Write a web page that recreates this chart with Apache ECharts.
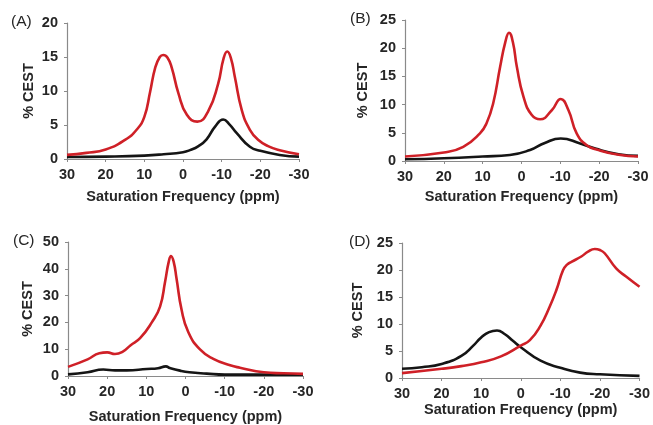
<!DOCTYPE html>
<html><head><meta charset="utf-8">
<script src="https://cdn.jsdelivr.net/npm/echarts@6/dist/echarts.min.js"></script>
<style>html,body{margin:0;padding:0;background:#fff}#c{width:653px;height:425px}</style>
</head><body><div id="c"></div>
<script>
// Panel A
const xA = [30, 25, 20, 15, 12, 10, 8.5, 7.2, 6, 5.1, 4, 2.9, 1.2, -1, -3.7, -6.5, -9.1, -10.5, -11.45, -12.4, -13.4, -15.2, -17.3, -19.5, -22, -25, -30];
const redA = [0.6, 0.9, 1.4, 2.8, 4.3, 6.2, 9.9, 13.4, 15.0, 15.3, 14.9, 13.4, 9.7, 6.5, 5.5, 7.0, 11.1, 14.8, 15.8, 14.8, 12.1, 7.2, 4.3, 2.8, 1.9, 1.3, 0.7];
const xAb = [30, 20, 10, 5, 0, -1.8, -4, -6.1, -8.3, -10.4, -12, -13.9, -17.3, -20, -25, -30];
const blackA = [0.3, 0.35, 0.5, 0.7, 1.0, 1.3, 1.9, 2.9, 4.75, 5.8, 5.1, 3.8, 1.8, 1.2, 0.6, 0.35];
// Panel B
const xB = [30, 20, 15, 10.7, 9, 7.3, 5.5, 4.2, 3.2, 2.2, 1.2, -0.5, -2.6, -4.8, -7.8, -10.1, -12.1, -14.2, -16.8, -19.8, -25, -30];
const redB = [0.8, 1.5, 2.5, 4.9, 6.7, 10.2, 16.7, 21.0, 22.75, 21.0, 16.7, 11.4, 8.2, 7.4, 9.0, 11.0, 9.0, 4.9, 2.8, 1.95, 1.1, 0.8];
const xBb = [30, 20, 10, 3, -2.2, -6, -10.1, -15.1, -19, -25, -30];
const blackB = [0.3, 0.5, 0.8, 1.06, 1.95, 3.2, 4.0, 3.1, 2.2, 1.2, 0.9];
// Panel C
const xC = [30, 25, 22, 20, 18, 16, 14, 11.6, 8.6, 6.5, 5.2, 4.3, 3.7, 3.0, 2.3, 1.0, -0.7, -3.7, -7.1, -11.4, -13.9, -20, -25, -30];
const redC = [3.4, 6.2, 8.5, 8.8, 8.2, 9.1, 11.5, 14.1, 20.0, 25.9, 35.3, 42.5, 44.8, 42.5, 36.5, 24.7, 16.4, 9.9, 6.4, 4.0, 3.1, 1.4, 1.0, 0.8];
const xCb = [30, 25, 21, 18, 15, 9.9, 7, 5, 4, 1.4, -1, -5.4, -10, -20, -30];
const blackC = [0.6, 1.4, 2.4, 2.1, 2.1, 2.6, 2.9, 3.6, 3.0, 2.0, 1.4, 0.9, 0.5, 0.5, 0.5];
// Panel D
const xD = [30, 20, 15, 10, 5, 0, -2.3, -5, -7.3, -9, -10.7, -11.7, -12.8, -15.3, -17, -18.7, -20, -21.2, -24.1, -26.6, -30];
const redD = [0.9, 1.7, 2.2, 2.9, 4.0, 6.0, 7.0, 9.7, 13.2, 16.3, 20.0, 21.0, 21.5, 22.5, 23.4, 23.9, 23.7, 23.1, 20.3, 18.8, 16.9];
const xDb = [30, 25, 20, 15, 12, 10, 8, 6, 4, 2, 0, -5, -10, -15, -20, -30];
const blackD = [1.7, 2.0, 2.6, 4.1, 6.0, 7.5, 8.5, 8.8, 8.1, 6.9, 5.7, 3.2, 1.9, 1.0, 0.7, 0.4];

const panelLabels = ['(A)', '(B)', '(C)', '(D)'];
const yMax = [20, 25, 50, 25];
const yStep = [5, 5, 10, 5];
const xTitle = 'Saturation Frequency (ppm)';
const yTitle = '% CEST';

const pair = (xs, ys) => xs.map((x, i) => [x, ys[i]]);
const series = [
  [pair(xA, redA), pair(xAb, blackA)],
  [pair(xB, redB), pair(xBb, blackB)],
  [pair(xC, redC), pair(xCb, blackC)],
  [pair(xD, redD), pair(xDb, blackD)]
];

const grids = [
  {left: 67, top: 23, width: 232, height: 136},
  {left: 405, top: 20, width: 233, height: 141},
  {left: 68, top: 242, width: 235, height: 141},
  {left: 402, top: 243, width: 238, height: 135}
];
const xNameGap = [30, 28, 33, 24];
const yNameGap = [31, 35, 33, 37];
const labelPos = [[11, 23], [350, 20], [13, 242], [349, 243]];

const txt = '#262626';
const axisCol = '#8a8a8a';
const font = '"Liberation Sans", Arial, sans-serif';

const option = {
  backgroundColor: '#fff',
  animation: false,
  grid: grids.map(g => Object.assign({containLabel: false}, g)),
  xAxis: grids.map((g, i) => ({
    type: 'value', gridIndex: i, min: -30, max: 30, interval: 10, inverse: true,
    name: xTitle, nameLocation: 'middle', nameGap: xNameGap[i],
    nameTextStyle: {fontFamily: font, fontWeight: 'bold', fontSize: 14.5, color: txt},
    axisLine: {show: true, onZero: false, lineStyle: {color: axisCol, width: 1.2}},
    axisTick: {show: true, inside: false, length: 3, lineStyle: {color: axisCol}},
    axisLabel: {fontFamily: font, fontWeight: 'bold', fontSize: 14.5, color: txt, margin: 8},
    splitLine: {show: false}
  })),
  yAxis: grids.map((g, i) => ({
    type: 'value', gridIndex: i, min: 0, max: yMax[i], interval: yStep[i],
    name: yTitle, nameLocation: 'middle', nameGap: yNameGap[i], nameRotate: 90,
    nameTextStyle: {fontFamily: font, fontWeight: 'bold', fontSize: 14.5, color: txt},
    axisLine: {show: true, onZero: false, lineStyle: {color: axisCol, width: 1.2}},
    axisTick: {show: true, inside: false, length: 3, lineStyle: {color: axisCol}},
    axisLabel: {fontFamily: font, fontWeight: 'bold', fontSize: 14.5, color: txt, margin: 9},
    splitLine: {show: false}
  })),
  series: [],
  graphic: panelLabels.map((t, i) => ({
    type: 'text', left: labelPos[i][0], top: labelPos[i][1] - 9,
    style: {text: t, fontFamily: font, fontSize: 15.5, fill: txt}
  }))
};
series.forEach((pairSet, i) => {
  option.series.push({
    type: 'line', xAxisIndex: i, yAxisIndex: i, data: pairSet[1], showSymbol: false, smooth: 0.5,
    lineStyle: {color: '#151515', width: 2.6}, z: 2
  });
  option.series.push({
    type: 'line', xAxisIndex: i, yAxisIndex: i, data: pairSet[0], showSymbol: false, smooth: 0.5,
    lineStyle: {color: '#cf2027', width: 2.6}, z: 3
  });
});
const chart = echarts.init(document.getElementById('c'), null, {renderer: 'canvas'});
chart.setOption(option);
</script></body></html>
